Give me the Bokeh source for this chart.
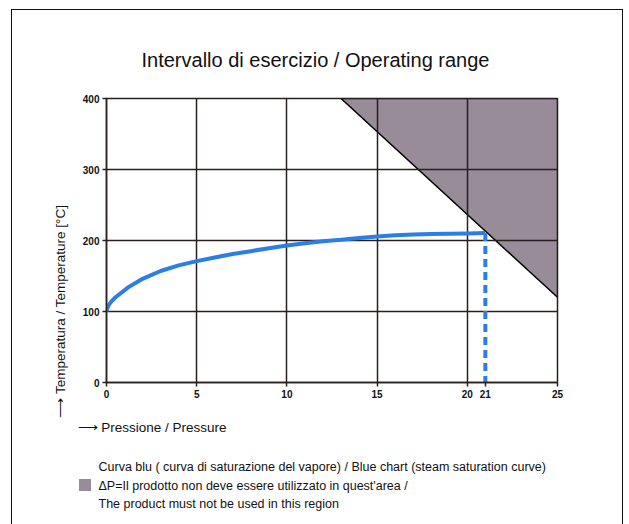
from bokeh.plotting import figure
from bokeh.models import FixedTicker, Range1d, Title, InlineStyleSheet
from bokeh.embed import file_html
from bokeh.resources import INLINE

# ---- data ----
pressure = [0, 0.05, 0.15, 0.3, 0.5, 0.8, 1.2, 2, 3, 4, 5, 6, 7, 8, 9, 10, 11, 12, 13, 14, 15, 16, 17, 18, 19, 20, 21]
temperature = [100, 105, 110, 115, 120, 126, 134, 146, 157, 165, 171, 176, 181, 185, 189, 193, 196, 199, 201,
               203.5, 205.5, 207.5, 208.5, 209, 209.5, 210, 210.5]
limit_p = [21, 21]
limit_t = [210.5, 0]
forbidden_x = [13, 25, 25]
forbidden_y = [400, 400, 120]
x_ticks = [0, 5, 10, 15, 20, 21, 25]
x_grid = [0, 5, 10, 15, 20, 25]
y_ticks = [0, 100, 200, 300, 400]

title_text = "Intervallo di esercizio / Operating range"
ylabel_text = "\u27f6 Temperatura / Temperature [°C]"
xlabel_text = "\u27f6 Pressione / Pressure"
legend1 = "Curva blu ( curva di saturazione del vapore) / Blue chart (steam saturation curve)"
legend2 = "\u0394P=Il prodotto non deve essere utilizzato in quest'area /"
legend3 = "The product must not be used in this region"

FONT = "Liberation Sans"
GRID = "#2a1e1e"
BLUE = "#2b7ee6"
SHADE = "#978c98"
TXT = "#111111"

p = figure(width=629, height=524, output_backend="svg", toolbar_location=None,
           x_range=Range1d(0, 25), y_range=Range1d(0, 400),
           min_border_left=106, min_border_right=72, min_border_top=98, min_border_bottom=142)
p.background_fill_color = "white"
p.border_fill_color = "white"
p.outline_line_color = GRID
p.outline_line_width = 1.5
# page frame and legend key for the shaded region
p.stylesheets = [InlineStyleSheet(css=(
    ":host { position: relative; }"
    ":host::after { content: ''; position: absolute; left: 11px; top: 9px; right: 6px; bottom: -20px;"
    " border: 1.5px solid #111; pointer-events: none; z-index: 1000; }"
    ":host::before { content: ''; position: absolute; left: 79px; top: 479px; width: 12px; height: 12px;"
    " background: " + SHADE + "; pointer-events: none; z-index: 1000; }"))]

# forbidden region (below the grid)
patch = p.patch(forbidden_x, forbidden_y, fill_color=SHADE, line_color="black", line_width=1.5)
patch.level = "image"

# grid
p.xgrid.ticker = FixedTicker(ticks=x_grid)
p.ygrid.ticker = FixedTicker(ticks=y_ticks)
for g in (p.xgrid, p.ygrid):
    g.grid_line_color = GRID
    g.grid_line_width = 1.5
    g.grid_line_alpha = 1.0

# axes
p.xaxis.ticker = FixedTicker(ticks=x_ticks)
p.yaxis.ticker = FixedTicker(ticks=y_ticks)
for ax in (p.xaxis, p.yaxis):
    ax.axis_line_color = GRID
    ax.axis_line_width = 1.5
    ax.major_tick_line_color = GRID
    ax.major_tick_line_width = 1.5
    ax.major_tick_out = 4
    ax.major_tick_in = 0
    ax.minor_tick_line_color = None
    ax.major_label_text_font = FONT
    ax.major_label_text_font_style = "bold"
    ax.major_label_text_font_size = "10px"
    ax.major_label_text_color = TXT
    ax.major_label_standoff = 3

# saturation curve
p.line(pressure, temperature, line_color=BLUE, line_width=4)
p.line(limit_p, limit_t, line_color=BLUE, line_width=4, line_dash="8 5")

# title
p.title.text = title_text
p.title.align = "left"
p.title.offset = 35
p.title.text_font = FONT
p.title.text_font_size = "20px"
p.title.text_font_style = "normal"
p.title.text_color = TXT
p.title.standoff = 56

def txt_title(text, size, offset, standoff, align="left"):
    return Title(text=text, align=align, offset=offset, text_font=FONT, text_font_size=size,
                 text_font_style="normal", text_color=TXT, standoff=standoff)

# y label (rotated title on the left)
p.add_layout(txt_title(ylabel_text, "13.5px", -35, 24), "left")
# x label and legend lines
p.add_layout(txt_title(xlabel_text, "13.5px", -29, 35), "below")
p.add_layout(txt_title(legend1, "12.5px", -8, 11), "below")
p.add_layout(txt_title(legend2, "12.5px", -8, -5), "below")
p.add_layout(txt_title(legend3, "12.5px", -8, 8), "below")

open("out.html", "w").write(file_html(p, INLINE))
